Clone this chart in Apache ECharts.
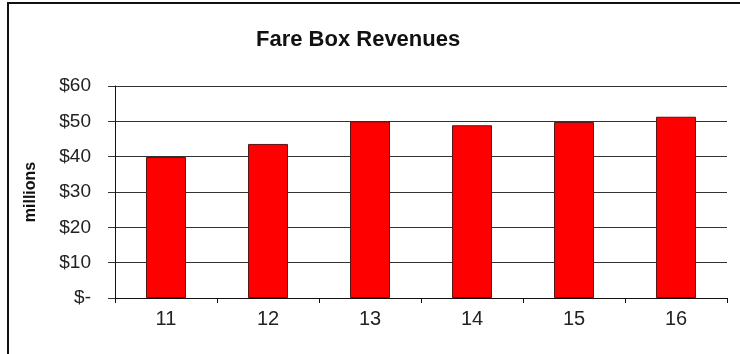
<!DOCTYPE html>
<html>
<head>
<meta charset="utf-8">
<script src="https://cdn.jsdelivr.net/npm/echarts@6/dist/echarts.min.js"></script>
<style>
  html, body { margin: 0; padding: 0; background: #fff; }
  #chart { width: 740px; height: 354px; }
</style>
</head>
<body>
<div id="chart"></div>
<script>
// Fiscal years and fare box revenue (millions of dollars)
const years = ['11', '12', '13', '14', '15', '16'];
const revenues = [39.9, 43.6, 50.0, 48.9, 49.8, 51.3];
const yTickLabels = ['$-', '$10', '$20', '$30', '$40', '$50', '$60'];

const chart = echarts.init(document.getElementById('chart'), null, { renderer: 'canvas' });

chart.setOption({
  backgroundColor: '#ffffff',
  animation: false,
  title: {
    text: 'Fare Box Revenues',
    left: 256,
    top: 29,
    padding: 0,
    textStyle: {
      fontFamily: 'Liberation Sans, Arial, sans-serif',
      fontWeight: 'bold',
      fontSize: 22,
      color: '#111'
    }
  },
  graphic: [{
    type: 'rect',
    shape: { x: 8, y: 3, width: 800, height: 400 },
    style: { fill: 'none', stroke: '#111', lineWidth: 2 },
    silent: true
  }],
  grid: { left: 115, right: 13, top: 86, bottom: 56 },
  xAxis: {
    type: 'category',
    data: years,
    boundaryGap: true,
    axisLine: { show: true, lineStyle: { color: '#111', width: 1 } },
    axisTick: { show: true, length: 5, alignWithLabel: false, lineStyle: { color: '#111' } },
    axisLabel: {
      margin: 11,
      fontFamily: 'Liberation Sans, Arial, sans-serif',
      fontSize: 20,
      color: '#222'
    }
  },
  yAxis: {
    type: 'value',
    min: 0,
    max: 60,
    interval: 10,
    name: 'millions',
    nameLocation: 'middle',
    nameGap: 76,
    nameRotate: 90,
    nameTextStyle: {
      fontFamily: 'Liberation Sans, Arial, sans-serif',
      fontWeight: 'bold',
      fontSize: 16,
      color: '#111'
    },
    axisLine: { show: true, lineStyle: { color: '#111', width: 1 } },
    axisTick: { show: true, length: 7, lineStyle: { color: '#333' } },
    axisLabel: {
      margin: 24,
      fontFamily: 'Liberation Sans, Arial, sans-serif',
      fontSize: 19,
      color: '#222',
      formatter: function (v) { return yTickLabels[Math.round(v / 10)]; }
    },
    splitLine: { show: true, lineStyle: { color: '#333', width: 1 } }
  },
  series: [{
    type: 'bar',
    data: revenues,
    barWidth: 40,
    itemStyle: { color: '#ff0000', borderColor: '#5a1414', borderWidth: 1 }
  }]
});
</script>
</body>
</html>
